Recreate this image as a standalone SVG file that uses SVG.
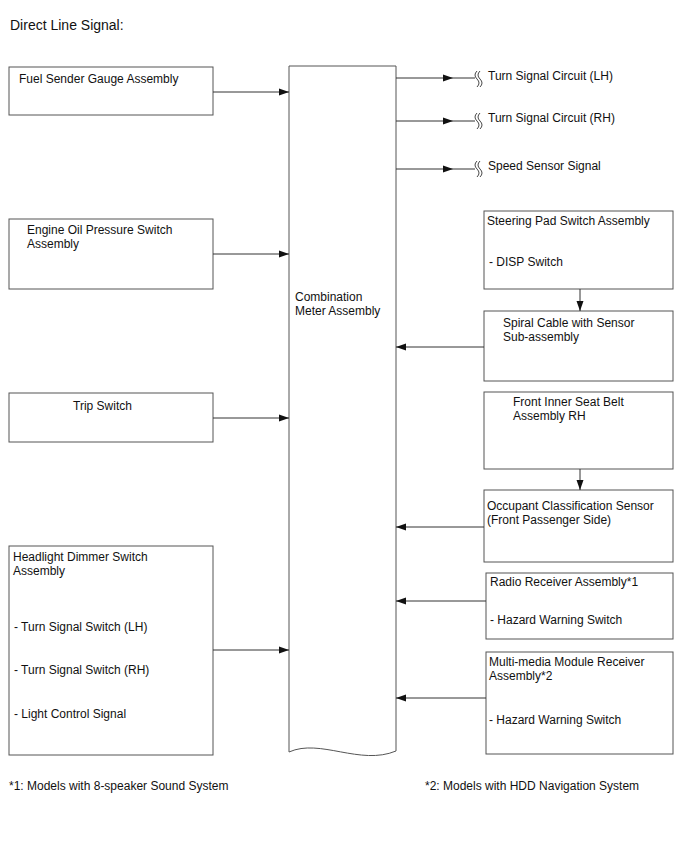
<svg xmlns="http://www.w3.org/2000/svg" width="688" height="852" viewBox="0 0 688 852">
<style>
text{font-family:"Liberation Sans",Arial,sans-serif;font-size:12px;fill:#111}
.t{font-size:14px}
.box{fill:#fff;stroke:#555;stroke-width:1}
.ln{stroke:#333;stroke-width:1;fill:none}
.sq{stroke:#333;stroke-width:0.9;fill:none}
</style>
<defs>
<marker id="ah" viewBox="0 0 10 10" refX="10" refY="5" markerWidth="10" markerHeight="10" markerUnits="userSpaceOnUse" orient="auto">
<path d="M0,1.5 L10,5 L0,8.5 Z" fill="#111"/>
</marker>
</defs>
<rect width="688" height="852" fill="#fff"/>
<text class="t" x="10" y="30">Direct Line Signal:</text>

<g id="meter">
<path class="box" d="M289,66 H396 V751 C360,766 320,738 289,752 Z"/>
<text x="295" y="301">Combination</text>
<text x="295" y="315">Meter Assembly</text>
</g>

<g id="fuel"><rect class="box" x="9" y="67" width="204" height="48"/><text x="19" y="83">Fuel Sender Gauge Assembly</text></g>
<g id="oil"><rect class="box" x="9" y="219" width="204" height="70"/><text x="27" y="234">Engine Oil Pressure Switch</text><text x="27" y="248">Assembly</text></g>
<g id="trip"><rect class="box" x="9" y="393" width="204" height="49"/><text x="73" y="410">Trip Switch</text></g>
<g id="headlight"><rect class="box" x="9" y="546" width="204" height="209"/>
<text x="13" y="561">Headlight Dimmer Switch</text><text x="13" y="575">Assembly</text>
<text x="14" y="631">- Turn Signal Switch (LH)</text>
<text x="14" y="674">- Turn Signal Switch (RH)</text>
<text x="14" y="718">- Light Control Signal</text></g>

<g id="steering"><rect class="box" x="484" y="211" width="189" height="78"/><text x="487" y="225">Steering Pad Switch Assembly</text><text x="489" y="266">- DISP Switch</text></g>
<g id="spiral"><rect class="box" x="484" y="311" width="189" height="70"/><text x="503" y="327">Spiral Cable with Sensor</text><text x="503" y="341">Sub-assembly</text></g>
<g id="seatbelt"><rect class="box" x="484" y="392" width="189" height="77"/><text x="513" y="406">Front Inner Seat Belt</text><text x="513" y="420">Assembly RH</text></g>
<g id="occupant"><rect class="box" x="484" y="490" width="189" height="72"/><text x="487" y="510">Occupant Classification Sensor</text><text x="487" y="524">(Front Passenger Side)</text></g>
<g id="radio"><rect class="box" x="486" y="573" width="187" height="66"/><text x="490" y="586">Radio Receiver Assembly*1</text><text x="490" y="624">- Hazard Warning Switch</text></g>
<g id="multimedia"><rect class="box" x="486" y="652" width="187" height="102"/><text x="489" y="666">Multi-media Module Receiver</text><text x="489" y="680">Assembly*2</text><text x="489" y="724">- Hazard Warning Switch</text></g>

<g id="out-lh"><path class="sq" d="M477,71 q-4,4 0,8 t0,8 M480,71 q-4,4 0,8 t0,8"/><text x="488" y="80">Turn Signal Circuit (LH)</text></g>
<g id="out-rh"><path class="sq" d="M477,113 q-4,4 0,8 t0,8 M480,113 q-4,4 0,8 t0,8"/><text x="488" y="122">Turn Signal Circuit (RH)</text></g>
<g id="out-speed"><path class="sq" d="M477,161 q-4,4 0,8 t0,8 M480,161 q-4,4 0,8 t0,8"/><text x="488" y="170">Speed Sensor Signal</text></g>

<g id="connectors">
<line class="ln" x1="213" y1="92" x2="289" y2="92" marker-end="url(#ah)"/>
<line class="ln" x1="213" y1="254" x2="289" y2="254" marker-end="url(#ah)"/>
<line class="ln" x1="213" y1="418" x2="289" y2="418" marker-end="url(#ah)"/>
<line class="ln" x1="213" y1="650" x2="289" y2="650" marker-end="url(#ah)"/>

<line class="ln" x1="396" y1="78" x2="453" y2="78" marker-end="url(#ah)"/><line class="ln" x1="453" y1="78" x2="475" y2="78"/>
<line class="ln" x1="396" y1="121" x2="453" y2="121" marker-end="url(#ah)"/><line class="ln" x1="453" y1="121" x2="475" y2="121"/>
<line class="ln" x1="396" y1="169" x2="453" y2="169" marker-end="url(#ah)"/><line class="ln" x1="453" y1="169" x2="475" y2="169"/>

<line class="ln" x1="580" y1="289" x2="580" y2="311" marker-end="url(#ah)"/>
<line class="ln" x1="580" y1="469" x2="580" y2="490" marker-end="url(#ah)"/>

<line class="ln" x1="484" y1="347" x2="396" y2="347" marker-end="url(#ah)"/>
<line class="ln" x1="484" y1="527" x2="396" y2="527" marker-end="url(#ah)"/>
<line class="ln" x1="486" y1="601" x2="396" y2="601" marker-end="url(#ah)"/>
<line class="ln" x1="486" y1="698" x2="396" y2="698" marker-end="url(#ah)"/>
</g>

<text x="9" y="790">*1: Models with 8-speaker Sound System</text>
<text x="425" y="790">*2: Models with HDD Navigation System</text>
</svg>
